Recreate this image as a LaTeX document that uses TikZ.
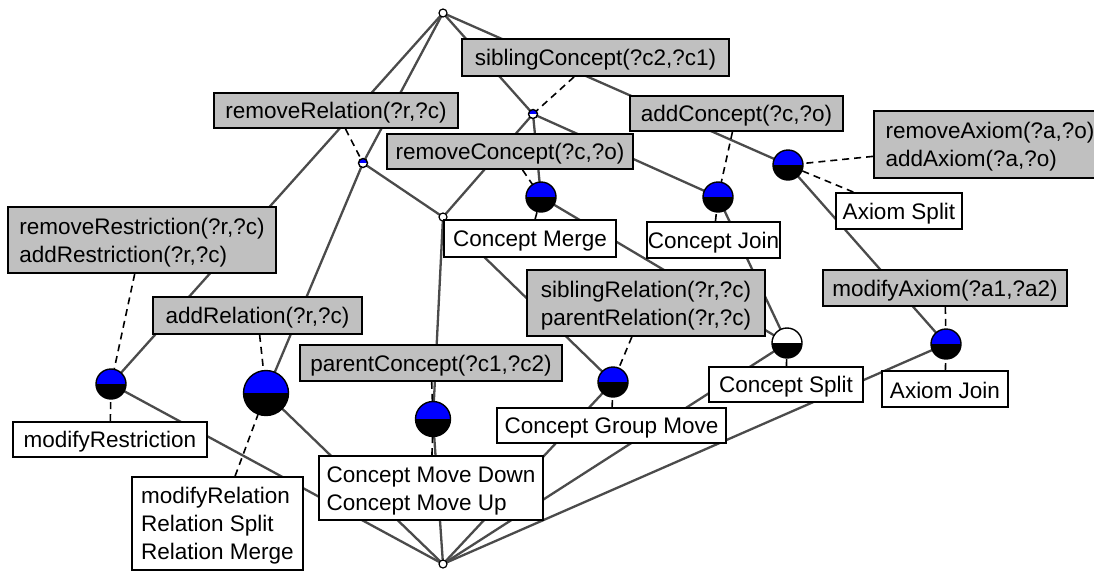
\documentclass[tikz,border=0pt]{standalone}
\usepackage{fontspec}
\setmainfont{Liberation Sans}
\usetikzlibrary{backgrounds}
\definecolor{attrfill}{RGB}{192,192,192}
\definecolor{edgecol}{RGB}{75,75,75}
\definecolor{extblue}{RGB}{0,0,255}
% strut giving every text line the same height and depth
\newcommand\lstrut{\rule[-3pt]{0pt}{24pt}}
\begin{document}
\begin{tikzpicture}[x=1pt,y=-1pt,
  edge/.style={draw=edgecol, line width=2.3pt},
  conn/.style={draw=black, line width=1.6pt, dash pattern=on 7pt off 5pt},
  box/.style={draw=black, line width=1.9pt, inner sep=0pt, align=left,
    font=\fontsize{22.5}{28.3}\selectfont},
  attr/.style={box, fill=attrfill},
  obj/.style={box, fill=white},
  half/.style 2 args={circle, draw=black, line width=1.4pt, inner sep=0pt, outer sep=0pt,
    path picture={
      \fill[#1] (path picture bounding box.north west) rectangle (path picture bounding box.east);
      \fill[#2] (path picture bounding box.west) rectangle (path picture bounding box.south east);}},
  dot/.style={circle, draw=black, line width=1.2pt, fill=white, minimum size=8, inner sep=0pt, outer sep=0pt},
]
\useasboundingbox (0,0) rectangle (1094,571);

% lattice concepts
\node[dot] (T)  at (443,13) {};
\node[half={extblue}{white}, minimum size=9] (N1) at (533,114) {};
\node[half={extblue}{white}, minimum size=9] (N2) at (363,163) {};
\node[dot] (N3) at (443,217) {};
\node[half={extblue}{black}, minimum size=30] (CM) at (541,197) {};
\node[half={extblue}{black}, minimum size=30] (CJ) at (718,197) {};
\node[half={extblue}{black}, minimum size=30] (AX) at (788,165) {};
\node[half={extblue}{black}, minimum size=30] (RR) at (111,384) {};
\node[half={extblue}{black}, minimum size=45] (AR) at (266,393) {};
\node[half={extblue}{black}, minimum size=35] (PC) at (433,419) {};
\node[half={extblue}{black}, minimum size=30] (SR) at (613,382) {};
\node[half={white}{black}, minimum size=30] (CS) at (787,343) {};
\node[half={extblue}{black}, minimum size=30] (AJ) at (946,344) {};
\node[dot] (B)  at (443,564) {};

% attribute labels
\node[attr, minimum width=267, minimum height=37] (lSibC) at (595.5,57.5) {\lstrut siblingConcept(?c2,?c1)};
\node[attr, minimum width=244, minimum height=35] (lRemRel) at (336,110.5) {\lstrut removeRelation(?r,?c)};
\node[attr, minimum width=213, minimum height=35] (lAddC) at (736.5,113.5) {\lstrut addConcept(?c,?o)};
\node[attr, minimum width=246, minimum height=35] (lRemC) at (510,151.5) {\lstrut removeConcept(?c,?o)};
\node[attr, minimum width=232, minimum height=67] (lAxm) at (990,144.5) {\lstrut removeAxiom(?a,?o)\\\lstrut addAxiom(?a,?o)};
\node[attr, minimum width=268, minimum height=66] (lRestr) at (142,240) {\lstrut removeRestriction(?r,?c)\\\lstrut addRestriction(?r,?c)};
\node[attr, minimum width=209, minimum height=37] (lAddRel) at (257.5,315.5) {\lstrut addRelation(?r,?c)};
\node[attr, minimum width=262, minimum height=36] (lParC) at (431,363) {\lstrut parentConcept(?c1,?c2)};
\node[attr, minimum width=238, minimum height=66] (lSibR) at (646,303) {\lstrut siblingRelation(?r,?c)\\\lstrut parentRelation(?r,?c)};
\node[attr, minimum width=244, minimum height=36] (lModAx) at (945,288) {\lstrut modifyAxiom(?a1,?a2)};

% object labels
\node[obj, minimum width=172, minimum height=37] (oMerge) at (530,238.5) {\lstrut Concept Merge};
\node[obj, minimum width=133, minimum height=36] (oJoin) at (713.5,240) {\lstrut Concept Join};
\node[obj, minimum width=126, minimum height=36] (oAxSplit) at (899,211) {\lstrut Axiom Split};
\node[obj, minimum width=154, minimum height=35] (oCSplit) at (786,384.5) {\lstrut Concept Split};
\node[obj, minimum width=126, minimum height=36] (oAxJoin) at (945,389) {\lstrut Axiom Join};
\node[obj, minimum width=229, minimum height=35] (oGroup) at (611.5,425.5) {\lstrut Concept Group Move};
\node[obj, minimum width=194, minimum height=35] (oModRestr) at (110,439.5) {\lstrut modifyRestriction};
\node[obj, minimum width=224, minimum height=64] (oMove) at (431,488) {\lstrut Concept Move Down\\\lstrut Concept Move Up};
\node[obj, minimum width=171, minimum height=93] (oModRel) at (217.5,523.5) {\lstrut modifyRelation\\\lstrut Relation Split\\\lstrut Relation Merge};

\begin{scope}[on background layer]
  % lattice edges
  \draw[edge] (T) -- (RR);
  \draw[edge] (T) -- (N2);
  \draw[edge] (T) -- (N1);
  \draw[edge] (T) -- (AX);
  \draw[edge] (N1) -- (N3);
  \draw[edge] (N1) -- (CM);
  \draw[edge] (N1) -- (CJ);
  \draw[edge] (N2) -- (AR);
  \draw[edge] (N2) -- (N3);
  \draw[edge] (N3) -- (PC);
  \draw[edge] (N3) -- (SR);
  \draw[edge] (CM) -- (CS);
  \draw[edge] (CJ) -- (CS);
  \draw[edge] (AX) -- (AJ);
  \draw[edge] (RR) -- (B);
  \draw[edge] (AR) -- (B);
  \draw[edge] (PC) -- (B);
  \draw[edge] (SR) -- (B);
  \draw[edge] (CS) -- (B);
  \draw[edge] (AJ) -- (B);
  % label leaders
  \draw[conn] (lSibC) -- (N1);
  \draw[conn] (lRemRel) -- (N2);
  \draw[conn] (lRemC) -- (CM);
  \draw[conn] (oMerge) -- (CM);
  \draw[conn] (lAddC) -- (CJ);
  \draw[conn] (oJoin) -- (CJ);
  \draw[conn] (lAxm) -- (AX);
  \draw[conn] (oAxSplit) -- (AX);
  \draw[conn] (lRestr) -- (RR);
  \draw[conn] (oModRestr) -- (RR);
  \draw[conn] (lAddRel) -- (AR);
  \draw[conn] (oModRel) -- (AR);
  \draw[conn] (lParC) -- (PC);
  \draw[conn] (oMove) -- (PC);
  \draw[conn] (lSibR) -- (SR);
  \draw[conn] (oGroup) -- (SR);
  \draw[conn] (oCSplit) -- (CS);
  \draw[conn] (lModAx) -- (AJ);
  \draw[conn] (oAxJoin) -- (AJ);
\end{scope}
\end{tikzpicture}
\end{document}
